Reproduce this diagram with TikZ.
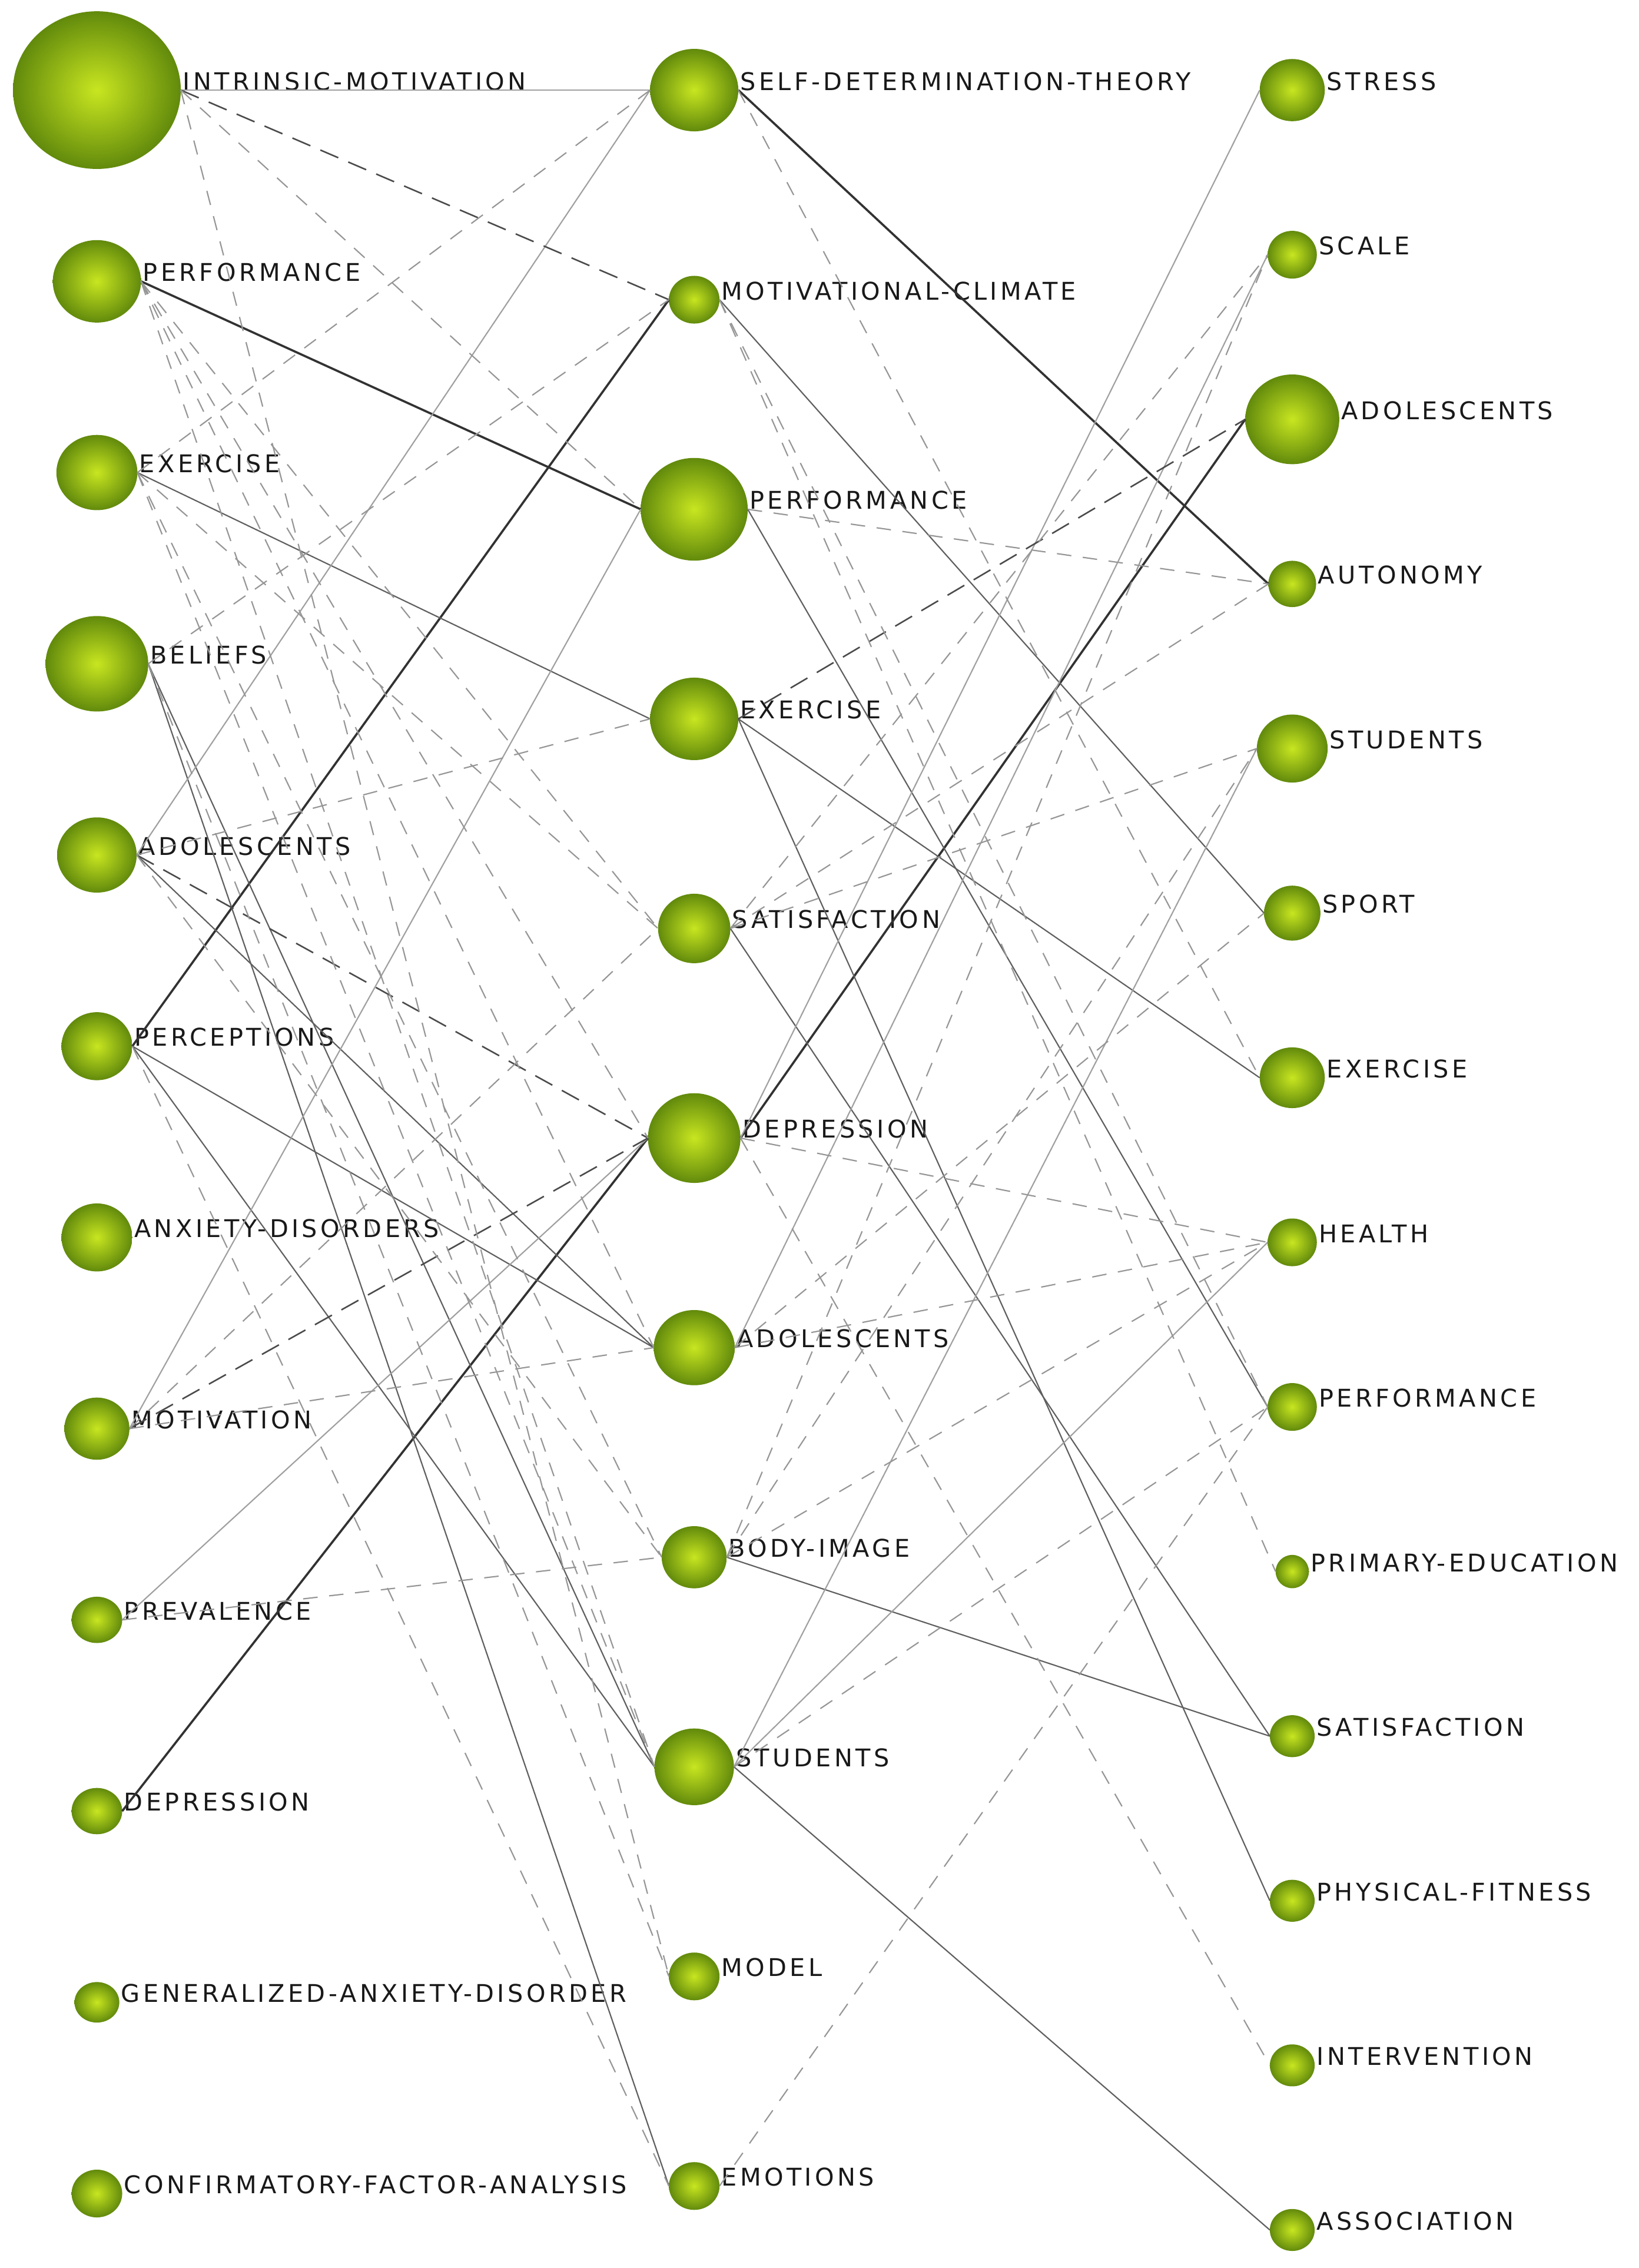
\documentclass[tikz,border=0pt]{standalone}
\usepackage{fontspec}
\newfontfamily\kwfont[LetterSpace=13]{DejaVu Sans}
\usetikzlibrary{shapes.geometric}

\begin{document}
\begin{tikzpicture}[x=0.2mm, y=-0.2mm,
    %Keyword spheres and their labels
    kw/.style={ellipse, inner sep=0pt, outer sep=0pt, shade, inner color=ballin, outer color=ballout},
    kwtext/.style={anchor=base west, inner sep=0pt, text=labelgray, font=\kwfont\fontsize{9.6}{11}\selectfont},
    %Links between periods
    linkheavy/.style={draw=linkdark, line width=0.85pt},
    linkmid/.style={draw=linkmidgray, line width=0.5pt},
    linkfaint/.style={draw=linklight, line width=0.5pt},
    linkdashdark/.style={draw=dashdark, line width=0.6pt, dash pattern=on 2.7mm off 1.5mm},
    linkdash/.style={draw=dashlight, line width=0.5pt, dash pattern=on 2mm off 1.6mm},
]
    % Colors
    \definecolor{ballin}{RGB}{200,230,32}
    \definecolor{ballout}{RGB}{98,138,12}
    \definecolor{labelgray}{RGB}{25,25,25}
    \definecolor{linkdark}{RGB}{50,50,50}
    \definecolor{linkmidgray}{RGB}{95,95,95}
    \definecolor{linklight}{RGB}{160,160,160}
    \definecolor{dashdark}{RGB}{75,75,75}
    \definecolor{dashlight}{RGB}{150,150,150}

    \useasboundingbox (0,0) rectangle (1133,1568);
    \fill[white] (0,0) rectangle (1133,1568);

    % First period
    \foreach \name/\i/\w/\h/\lbl in {im/0/116/109/INTRINSIC-MOTIVATION, perfA/1/61/57/PERFORMANCE,
        exerA/2/56/52/EXERCISE, beliefs/3/71/66/BELIEFS, adolA/4/55/52/ADOLESCENTS,
        percep/5/49/47/PERCEPTIONS, anxiety/6/49/47/ANXIETY-DISORDERS, motiv/7/45/43/MOTIVATION,
        preval/8/35/32/PREVALENCE, deprA/9/35/32/DEPRESSION, gad/10/31/28/GENERALIZED-ANXIETY-DISORDER,
        cfa/11/35/33/CONFIRMATORY-FACTOR-ANALYSIS}{
        \node[kw, minimum width=0.2mm*\w, minimum height=0.2mm*\h] (\name) at (67, {62.3+132.2*\i}) {};
        \node[kwtext] (\name-t) at ([xshift=0.2mm]\name.east) {\lbl};
    }

    % Second period
    \foreach \name/\i/\w/\h/\lbl in {sdt/0/61/57/SELF-DETERMINATION-THEORY, climate/1/35/33/MOTIVATIONAL-CLIMATE,
        perfB/2/74/71/PERFORMANCE, exerB/3/61/57/EXERCISE, satisB/4/50/48/SATISFACTION,
        deprB/5/64/62/DEPRESSION, adolB/6/56/52/ADOLESCENTS, body/7/45/43/BODY-IMAGE,
        studB/8/55/53/STUDENTS, model/9/35/33/MODEL, emotions/10/35/33/EMOTIONS}{
        \node[kw, minimum width=0.2mm*\w, minimum height=0.2mm*\h] (\name) at (480, {62.3+144.9*\i}) {};
        \node[kwtext] (\name-t) at ([xshift=0.2mm]\name.east) {\lbl};
    }

    % Third period
    \foreach \name/\i/\w/\h/\lbl in {stress/0/45/43/STRESS, scale/1/34/33/SCALE, adolC/2/65/62/ADOLESCENTS,
        autonomy/3/33/32/AUTONOMY, studC/4/49/47/STUDENTS, sport/5/39/38/SPORT, exerC/6/45/42/EXERCISE,
        health/7/34/33/HEALTH, perfC/8/34/33/PERFORMANCE, primary/9/23/23/PRIMARY-EDUCATION,
        satisC/10/31/29/SATISFACTION, fitness/11/31/29/PHYSICAL-FITNESS, interv/12/31/29/INTERVENTION,
        assoc/13/31/29/ASSOCIATION}{
        \node[kw, minimum width=0.2mm*\w, minimum height=0.2mm*\h] (\name) at (893.5, {62.3+113.8*\i}) {};
        \node[kwtext] (\name-t) at ([xshift=0.2mm]\name.east) {\lbl};
    }

    %Strong links
    \foreach \a/\b in {perfA/perfB, deprA/deprB, percep/climate, sdt/autonomy, deprB/adolC}
        \draw[linkheavy] (\a.east) -- (\b.west);

    %Solid links
    \foreach \a/\b in {exerA/exerB, adolA/adolB, percep/adolB, percep/studB, beliefs/emotions, beliefs/studB,
        climate/sport, exerB/exerC, exerB/fitness, satisB/satisC, body/satisC, studB/assoc, perfB/perfC}
        \draw[linkmid] (\a.east) -- (\b.west);

    %Weak solid links
    \foreach \a/\b in {im/sdt, adolA/sdt, motiv/perfB, preval/deprB, deprB/stress, adolB/scale,
        studB/health, studB/studC}
        \draw[linkfaint] (\a.east) -- (\b.west);

    %Dashed links, dark
    \foreach \a/\b in {im/climate, adolA/deprB, motiv/deprB, exerB/adolC}
        \draw[linkdashdark] (\a.east) -- (\b.west);

    %Dashed links, light
    \foreach \a/\b in {im/perfB, im/model, perfA/satisB, perfA/deprB, perfA/adolB, perfA/studB,
        exerA/sdt, exerA/satisB, exerA/body, exerA/studB, beliefs/climate, beliefs/model,
        adolA/exerB, adolA/body, percep/emotions, motiv/satisB, motiv/adolB, preval/body}
        \draw[linkdash] (\a.east) -- (\b.west);
    \foreach \a/\b in {sdt/exerC, climate/perfC, climate/primary, perfB/autonomy, satisB/studC,
        satisB/autonomy, satisB/scale, deprB/health, deprB/interv, adolB/health, adolB/sport,
        body/health, body/scale, body/studC, studB/perfC, emotions/perfC}
        \draw[linkdash] (\a.east) -- (\b.west);
\end{tikzpicture}
\end{document}
